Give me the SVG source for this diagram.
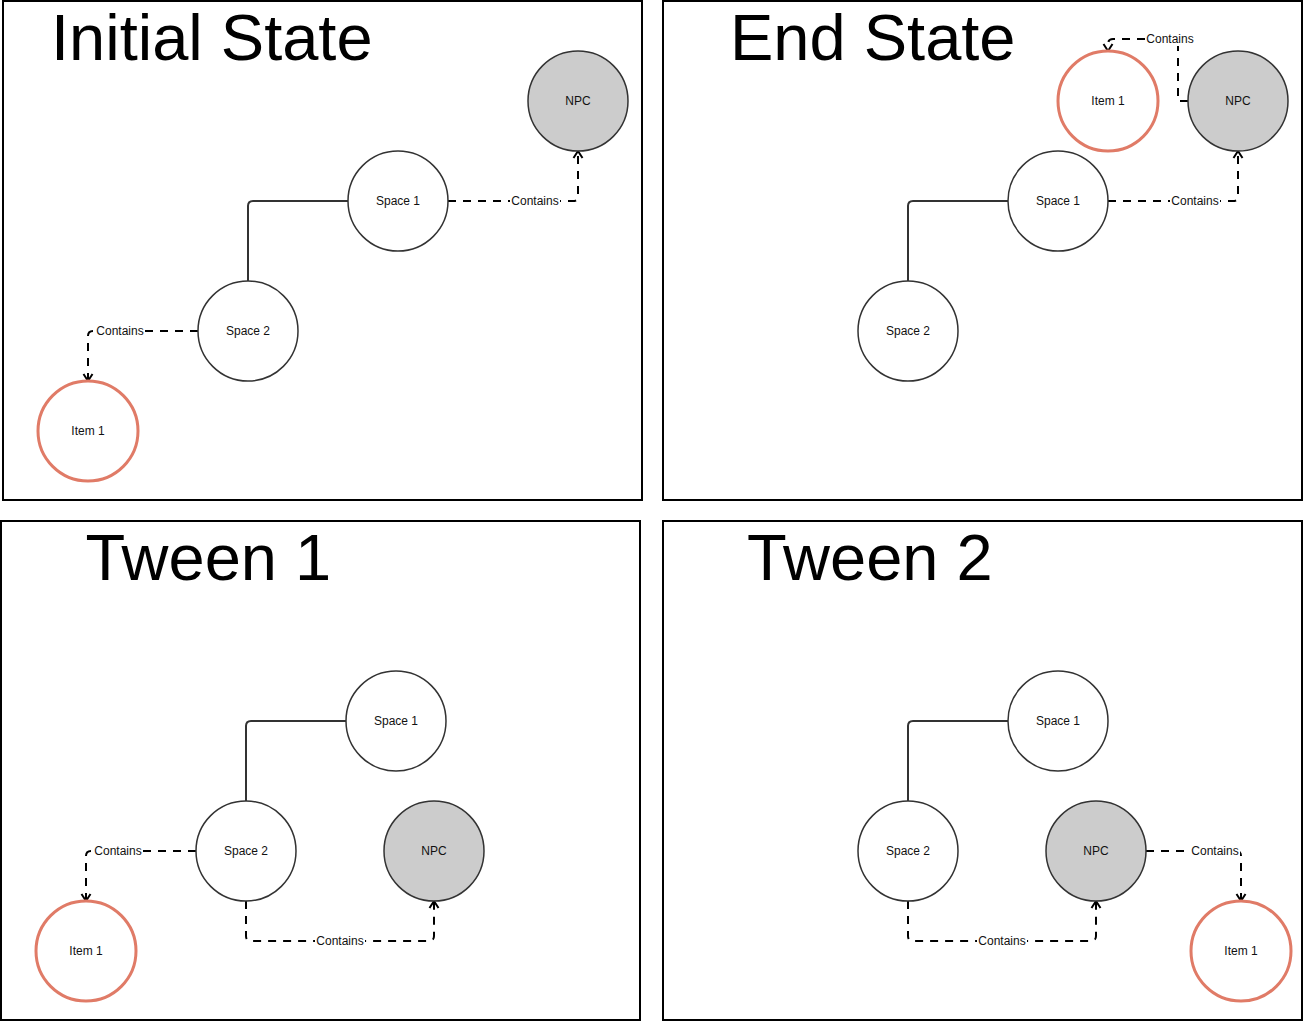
<svg xmlns="http://www.w3.org/2000/svg" width="1304" height="1022" viewBox="0 0 1304 1022">
<style>
.frame{fill:#fff;stroke:#000;stroke-width:2}
.node{fill:#fff;stroke:#333;stroke-width:1.5}
.npc{fill:#ccc;stroke:#333;stroke-width:1.5}
.item{fill:#fff;stroke:#e07b67;stroke-width:3}
.link{fill:none;stroke:#333;stroke-width:2}
.contains{fill:none;stroke:#000;stroke-width:2;stroke-dasharray:8 7;marker-end:url(#arr)}
.lbl{font-family:"Liberation Sans",Arial,sans-serif;font-size:12px;text-anchor:middle;fill:#111}
.bg{fill:#fff}
.title{font-family:"Liberation Sans",Arial,sans-serif;font-size:65px;fill:#000}
</style>
<defs>
<marker id="arr" markerUnits="userSpaceOnUse" viewBox="-8 -6 10 12" refX="0" refY="0" markerWidth="10" markerHeight="12" orient="auto" overflow="visible">
<path d="M-7,-4.5 L0,0 L-7,4.5" fill="none" stroke="#000" stroke-width="2"/>
</marker>
</defs>
<rect x="0" y="0" width="1304" height="1022" fill="#fff"/>
<g id="frames">
<rect class="frame" x="3" y="1" width="639" height="499"/>
<rect class="frame" x="663" y="1" width="639" height="499"/>
<rect class="frame" x="1" y="521" width="639" height="499"/>
<rect class="frame" x="663" y="521" width="639" height="499"/>
</g>
<g id="titles">
<text class="title" x="51" y="60">Initial State</text>
<text class="title" x="730" y="60">End State</text>
<text class="title" x="85.5" y="580">Tween 1</text>
<text class="title" x="747" y="580">Tween 2</text>
</g>
<g id="connectors">
<path class="link" d="M348,201 H253 Q248,201 248,206 V281"/>
<path class="contains" d="M448,201 H573 Q578,201 578,196 V151"/>
<path class="contains" d="M198,331 H93 Q88,331 88,336 V381"/>
<path class="link" d="M1008,201 H913 Q908,201 908,206 V281"/>
<path class="contains" d="M1108,201 H1233 Q1238,201 1238,196 V151"/>
<path class="contains" d="M1188,101 H1178 V39 H1113 Q1108,39 1108,44 V51"/>
<path class="link" d="M346,721 H251 Q246,721 246,726 V801"/>
<path class="contains" d="M196,851 H91 Q86,851 86,856 V901"/>
<path class="contains" d="M246,901 V936 Q246,941 251,941 H429 Q434,941 434,936 V901"/>
<path class="link" d="M1008,721 H913 Q908,721 908,726 V801"/>
<path class="contains" d="M908,901 V936 Q908,941 913,941 H1091 Q1096,941 1096,936 V901"/>
<path class="contains" d="M1146,851 H1236 Q1241,851 1241,856 V901"/>
<g id="labels">
<rect class="bg" x="510" y="194" width="50" height="14"/><text class="lbl" x="535" y="205">Contains</text>
<rect class="bg" x="95" y="324" width="50" height="14"/><text class="lbl" x="120" y="335">Contains</text>
<rect class="bg" x="1170" y="194" width="50" height="14"/><text class="lbl" x="1195" y="205">Contains</text>
<rect class="bg" x="1145" y="32" width="50" height="14"/><text class="lbl" x="1170" y="43">Contains</text>
<rect class="bg" x="93" y="844" width="50" height="14"/><text class="lbl" x="118" y="855">Contains</text>
<rect class="bg" x="315" y="934" width="50" height="14"/><text class="lbl" x="340" y="945">Contains</text>
<rect class="bg" x="977" y="934" width="50" height="14"/><text class="lbl" x="1002" y="945">Contains</text>
<rect class="bg" x="1190" y="844" width="50" height="14"/><text class="lbl" x="1215" y="855">Contains</text>
</g>
</g>
<g id="initial-npc"><circle class="npc" cx="578" cy="101" r="50"/><text class="lbl" x="578" y="105">NPC</text></g>
<g id="initial-space1"><circle class="node" cx="398" cy="201" r="50"/><text class="lbl" x="398" y="205">Space 1</text></g>
<g id="initial-space2"><circle class="node" cx="248" cy="331" r="50"/><text class="lbl" x="248" y="335">Space 2</text></g>
<g id="initial-item1"><circle class="item" cx="88" cy="431" r="50"/><text class="lbl" x="88" y="435">Item 1</text></g>
<g id="end-item1"><circle class="item" cx="1108" cy="101" r="50"/><text class="lbl" x="1108" y="105">Item 1</text></g>
<g id="end-npc"><circle class="npc" cx="1238" cy="101" r="50"/><text class="lbl" x="1238" y="105">NPC</text></g>
<g id="end-space1"><circle class="node" cx="1058" cy="201" r="50"/><text class="lbl" x="1058" y="205">Space 1</text></g>
<g id="end-space2"><circle class="node" cx="908" cy="331" r="50"/><text class="lbl" x="908" y="335">Space 2</text></g>
<g id="t1-space1"><circle class="node" cx="396" cy="721" r="50"/><text class="lbl" x="396" y="725">Space 1</text></g>
<g id="t1-space2"><circle class="node" cx="246" cy="851" r="50"/><text class="lbl" x="246" y="855">Space 2</text></g>
<g id="t1-npc"><circle class="npc" cx="434" cy="851" r="50"/><text class="lbl" x="434" y="855">NPC</text></g>
<g id="t1-item1"><circle class="item" cx="86" cy="951" r="50"/><text class="lbl" x="86" y="955">Item 1</text></g>
<g id="t2-space1"><circle class="node" cx="1058" cy="721" r="50"/><text class="lbl" x="1058" y="725">Space 1</text></g>
<g id="t2-space2"><circle class="node" cx="908" cy="851" r="50"/><text class="lbl" x="908" y="855">Space 2</text></g>
<g id="t2-npc"><circle class="npc" cx="1096" cy="851" r="50"/><text class="lbl" x="1096" y="855">NPC</text></g>
<g id="t2-item1"><circle class="item" cx="1241" cy="951" r="50"/><text class="lbl" x="1241" y="955">Item 1</text></g>
</svg>
